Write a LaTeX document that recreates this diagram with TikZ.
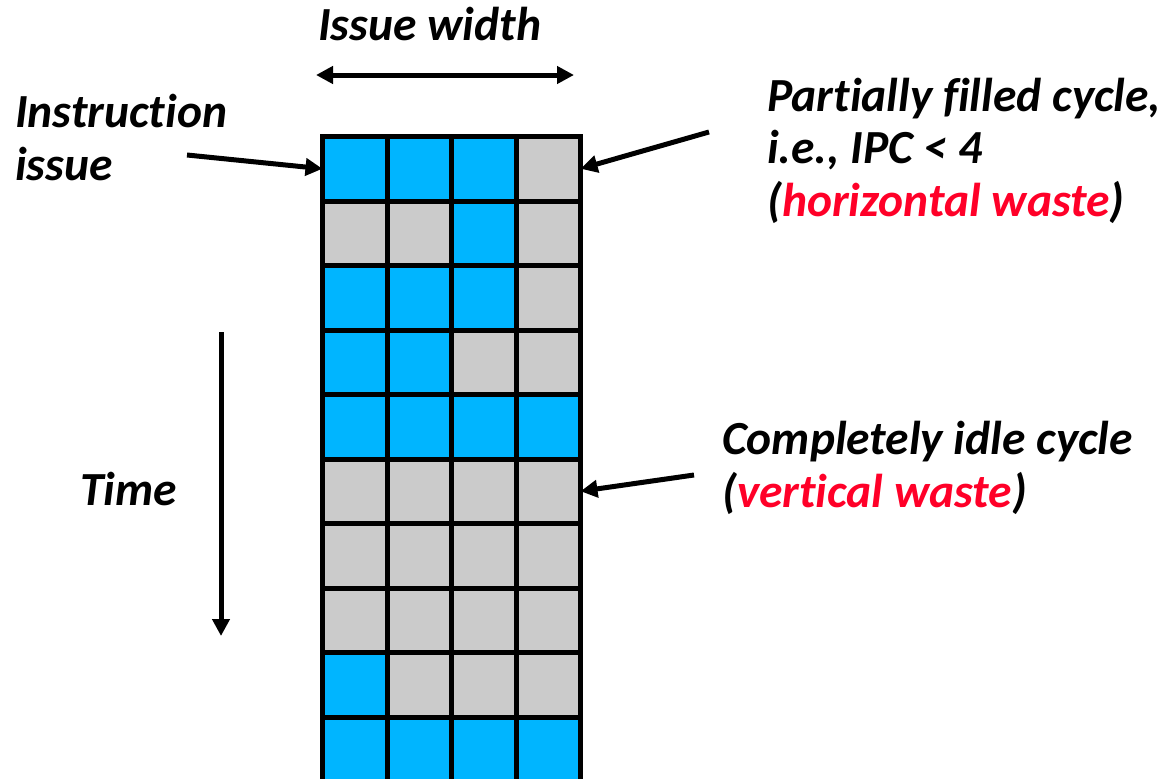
\documentclass[tikz,border=0pt]{standalone}
\usepackage{fontspec}
\setmainfont{Carlito}[Ligatures=NoCommon]
\usetikzlibrary{arrows.meta}
\definecolor{cellblue}{RGB}{0,181,255}
\definecolor{cellgray}{RGB}{203,203,203}
\definecolor{wastered}{RGB}{255,0,40}
\tikzset{
  cell/.style={draw=black,line width=5pt,minimum width=64.5pt,minimum height=64.5pt,inner sep=0pt,outer sep=0pt},
  B/.style={cell,fill=cellblue},
  G/.style={cell,fill=cellgray},
  lbl/.style={font=\fontsize{47.5}{52.5}\selectfont\bfseries\itshape,inner sep=0pt,align=left},
  arr/.style={line width=5pt,-{Triangle[length=17pt,width=17pt]}},
  darr/.style={line width=5pt,{Triangle[length=17pt,width=17pt]}-{Triangle[length=17pt,width=17pt]}}
}
\begin{document}
\begin{tikzpicture}[x=1pt,y=-1pt]
\useasboundingbox (0,0) rectangle (1168,779);
\foreach \r/\row in {1/{B,B,B,G},2/{G,G,B,G},3/{B,B,B,G},4/{B,B,G,G},5/{B,B,B,B},6/{G,G,G,G},7/{G,G,G,G},8/{G,G,G,G},9/{B,G,G,G},10/{B,B,B,B}}{
  \foreach \s [count=\c] in \row {
    \node[\s] (c\r-\c) at ({322.5+64.5*(\c-0.5)},{136.5+64.5*(\r-0.5)}) {};
  }
}
\node[lbl,anchor=base west] (iw) at (318,40) {Issue width};
\coordinate (iwl) at (316,75);
\coordinate (iwr) at (574,75);
\draw[darr] (iwl) -- (iwr);
\node[lbl,anchor=base west] (ii) at (15,180) {Instruction\\issue};
\coordinate (iis) at (187,155);
\draw[arr] (iis) -- (c1-1.west);
\node[lbl,anchor=base west] (pf) at (767,216) {Partially filled cycle,\\i.e., IPC < 4\\(\textcolor{wastered}{horizontal waste})};
\coordinate (pfs) at (709,132);
\draw[arr] (pfs) -- (c1-4.east);
\node[lbl,anchor=base west] (ci) at (722,507) {Completely idle cycle\\(\textcolor{wastered}{vertical waste})};
\coordinate (cis) at (694,475);
\draw[arr] (cis) -- (c6-4.east);
\node[lbl,anchor=base west] (tm) at (80,505) {Time};
\coordinate (ts) at (221,332);
\coordinate (te) at (221,636);
\draw[arr] (ts) -- (te);
\end{tikzpicture}
\end{document}
